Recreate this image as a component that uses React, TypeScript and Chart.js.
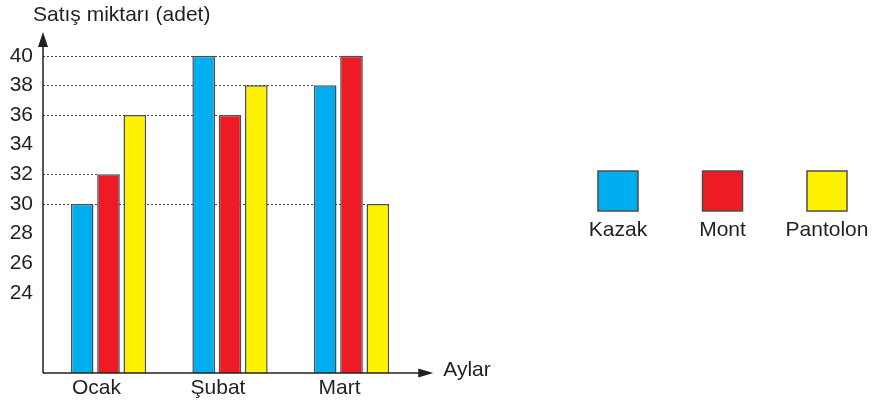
import React, { useEffect, useRef } from "react";
import { Chart, registerables } from "chart.js";

Chart.register(...registerables);

const categories = ["Ocak", "Şubat", "Mart"];
const seriesNames = ["Kazak", "Mont", "Pantolon"];
const kazak = [30, 40, 38];
const mont = [32, 36, 40];
const pantolon = [36, 38, 30];
const seriesColors = ["#00aeef", "#ed1c24", "#fff200"];
const yTickValues = [24, 26, 28, 30, 32, 34, 36, 38, 40];
const yTitle = "Satış miktarı (adet)";
const xTitle = "Aylar";

const FONT = '"Liberation Sans", Arial, sans-serif';
const FONT_SIZE = 21;
const INK = "#231f20";
const AXIS_GAP = 4.75;

const decor = {
  id: "decor",
  beforeDatasetsDraw(chart: any) {
    const { ctx, chartArea } = chart;
    const axisX = chartArea.left - AXIS_GAP;
    ctx.save();
    ctx.setLineDash([2, 2]);
    ctx.strokeStyle = "#444";
    ctx.lineWidth = 1;
    chart.data.datasets.forEach((_: any, i: number) => {
      chart.getDatasetMeta(i).data.forEach((el: any) => {
        const { x, y, width } = el.getProps(["x", "y", "width"], true);
        const yy = Math.round(y) + 0.5;
        ctx.beginPath();
        ctx.moveTo(axisX, yy);
        ctx.lineTo(x - width / 2, yy);
        ctx.stroke();
      });
    });
    ctx.restore();
  },
  afterDatasetsDraw(chart: any) {
    const { ctx, chartArea } = chart;
    const { right, top, bottom } = chartArea;
    const left = chartArea.left - AXIS_GAP;
    ctx.save();
    ctx.strokeStyle = INK;
    ctx.fillStyle = INK;
    ctx.lineWidth = 1.5;
    // y axis
    ctx.beginPath();
    ctx.moveTo(left, bottom);
    ctx.lineTo(left, top + 10);
    ctx.stroke();
    ctx.beginPath();
    ctx.moveTo(left, top);
    ctx.lineTo(left - 5, top + 15);
    ctx.lineTo(left + 5, top + 15);
    ctx.closePath();
    ctx.fill();
    // x axis
    const xEnd = right + 21;
    ctx.beginPath();
    ctx.moveTo(left, bottom);
    ctx.lineTo(xEnd - 10, bottom);
    ctx.stroke();
    ctx.beginPath();
    ctx.moveTo(xEnd, bottom);
    ctx.lineTo(xEnd - 15, bottom - 4.5);
    ctx.lineTo(xEnd - 15, bottom + 4.5);
    ctx.closePath();
    ctx.fill();
    // titles
    ctx.font = `${FONT_SIZE}px ${FONT}`;
    ctx.textAlign = "left";
    ctx.textBaseline = "alphabetic";
    ctx.fillText(yTitle, left - 10, 21);
    ctx.fillText(xTitle, xEnd + 10, bottom + 3);
    // legend
    const cy = 191;
    const size = 40;
    const startX = chart.width - 254;
    const step = 104.5;
    chart.data.datasets.forEach((ds: any, i: number) => {
      const cx = startX + i * step;
      ctx.fillStyle = ds.backgroundColor;
      ctx.fillRect(cx - size / 2, cy - size / 2, size, size);
      ctx.strokeStyle = "#4d4d4d";
      ctx.lineWidth = 1.5;
      ctx.strokeRect(cx - size / 2, cy - size / 2, size, size);
      ctx.fillStyle = INK;
      ctx.textAlign = "center";
      ctx.textBaseline = "middle";
      ctx.fillText(ds.label, cx, cy + 39);
    });
    ctx.restore();
  },
};

export default function App() {
  const ref = useRef<HTMLCanvasElement>(null);
  useEffect(() => {
    if (!ref.current) return;
    const values = [kazak, mont, pantolon];
    const chart = new Chart(ref.current, {
      type: "bar",
      data: {
        labels: categories,
        datasets: seriesNames.map((name, i) => ({
          label: name,
          data: values[i],
          backgroundColor: seriesColors[i],
          borderColor: "#4d4d4d",
          borderWidth: 1.5,
          borderSkipped: false,
          categoryPercentage: 0.65,
          barPercentage: 0.86,
        })),
      },
      options: {
        animation: false,
        responsive: true,
        maintainAspectRatio: false,
        layout: { padding: { left: 0, top: 32, right: 459.75, bottom: 0 } },
        plugins: { legend: { display: false }, tooltip: { enabled: false } },
        scales: {
          x: {
            grid: { display: false, drawTicks: false },
            border: { display: false },
            ticks: {
              color: INK,
              font: { size: FONT_SIZE, family: FONT },
              padding: 3,
              labelOffset: -12,
            },
            afterFit(scale: any) {
              scale.height = 32;
            },
          },
          y: {
            min: 18.6,
            max: 41.6,
            grid: { display: false, drawTicks: false },
            border: { display: false },
            ticks: {
              color: INK,
              font: { size: FONT_SIZE, family: FONT },
              padding: 10 + AXIS_GAP,
            },
            afterBuildTicks(scale: any) {
              scale.ticks = yTickValues.map((v) => ({ value: v }));
            },
            afterFit(scale: any) {
              scale.width = 43 + AXIS_GAP;
            },
          },
        },
      },
      plugins: [decor],
    });
    return () => chart.destroy();
  }, []);
  return (
    <div style={{ position: "fixed", left: 0, top: 0, width: 872, height: 405, background: "#fff" }}>
      <canvas ref={ref} />
    </div>
  );
}
